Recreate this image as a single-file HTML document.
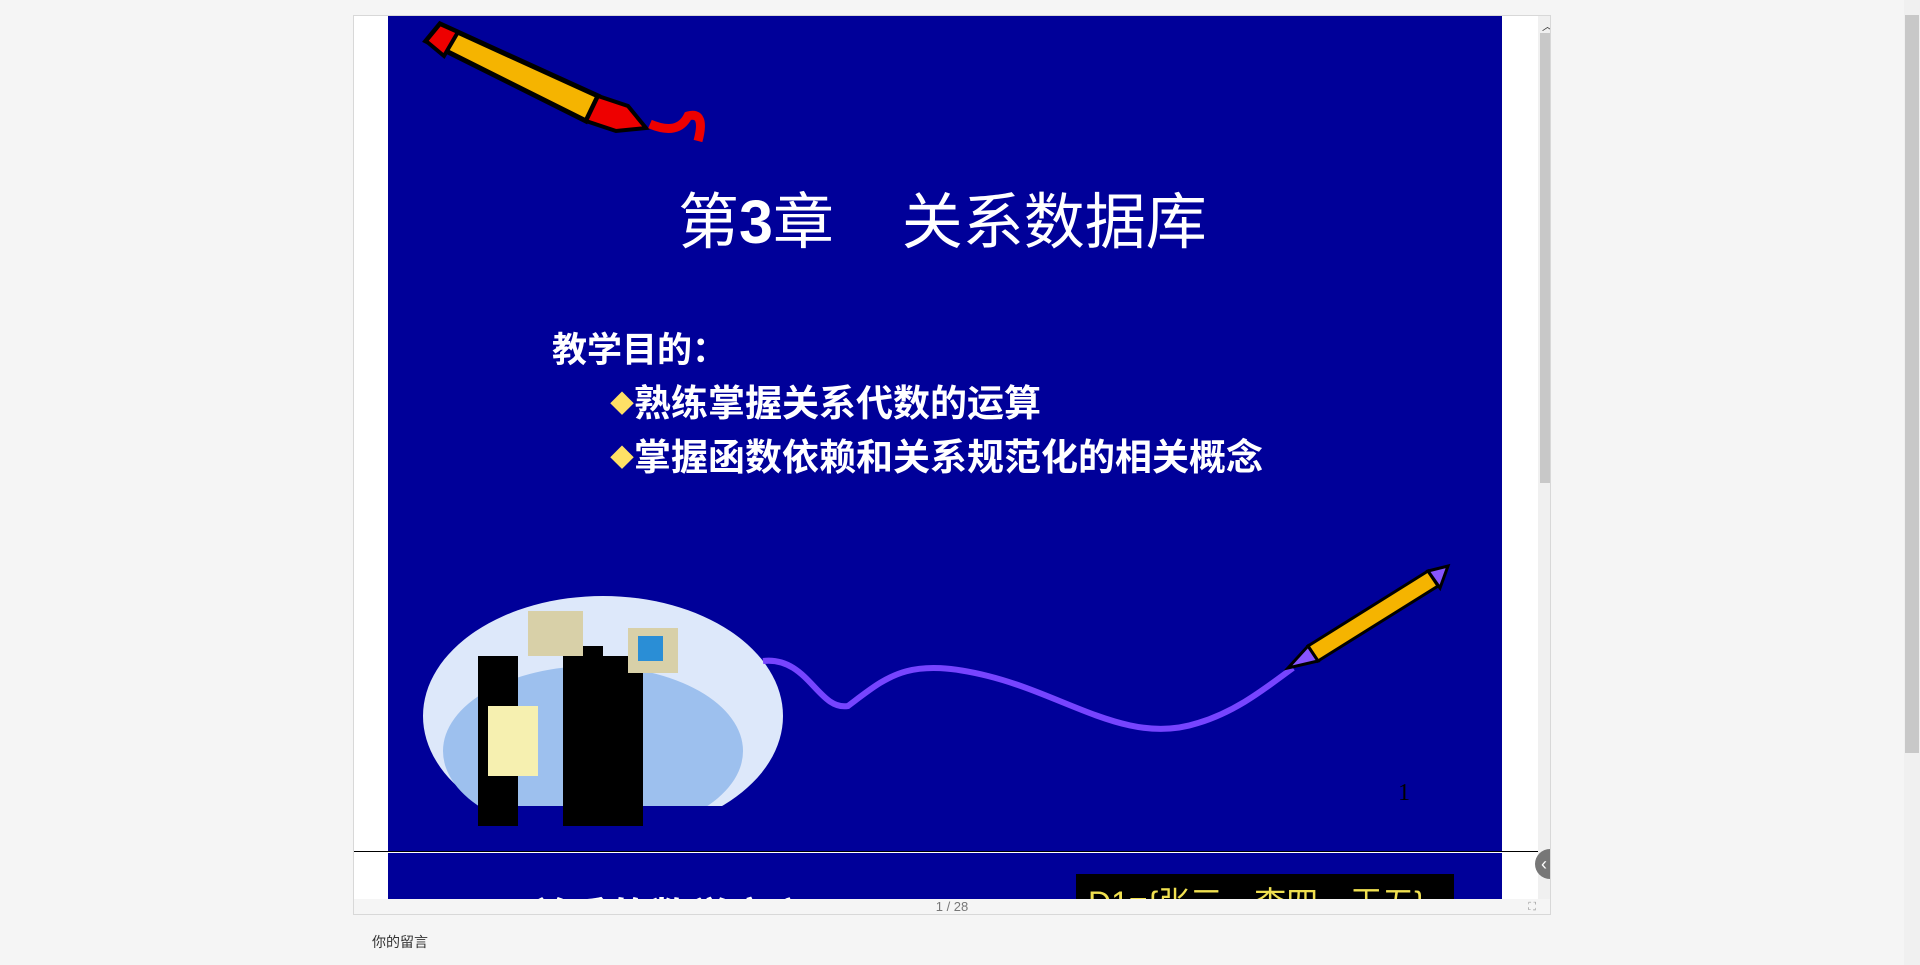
<!DOCTYPE html>
<html><head><meta charset="utf-8">
<style>
html,body{margin:0;padding:0;width:1920px;height:965px;overflow:hidden;background:#f5f5f5;font-family:"Liberation Sans","Noto Sans CJK SC",sans-serif;}
#viewer{position:absolute;left:353px;top:15px;width:1198px;height:900px;background:#fff;border:1px solid #d8d8d8;box-sizing:border-box;overflow:hidden;}
#slide1{position:absolute;left:34px;top:0;width:1114px;height:835px;background:#000099;overflow:hidden;}
#divider{position:absolute;left:0;top:835px;width:1184px;height:1px;background:#000;}
#slide2{position:absolute;left:34px;top:837px;width:1114px;height:60px;background:#000099;overflow:hidden;}
.t{position:absolute;color:#fff;white-space:nowrap;}
#bar{position:absolute;left:0;top:883px;width:1196px;height:16px;background:#f5f5f5;font-size:13px;color:#777;text-align:center;line-height:16px;}
#vscroll{position:absolute;left:1184px;top:0;width:14px;height:883px;background:#f0f0f0;}
#vthumb{position:absolute;left:1186px;top:17px;width:12px;height:450px;background:#c8c8c8;}
#pscroll{position:absolute;left:1904px;top:0;width:16px;height:965px;background:#f0f0f0;}
#pthumb{position:absolute;left:1905px;top:15px;width:14px;height:738px;background:#c8c8c8;}
</style></head><body>
<div id="viewer">
 <div id="slide1">
  <svg width="1114" height="835" style="position:absolute;left:0;top:0">
   <g>
    <polygon points="38,25 52,8 210,80 198,105" fill="#f5b400" stroke="#000" stroke-width="5"/>
    <polygon points="38,25 52,8 70,16 56,40" fill="#e00" stroke="#000" stroke-width="4"/>
    <polygon points="198,105 210,80 240,90 258,112 228,115" fill="#e00" stroke="#000" stroke-width="4"/>
    <path d="M262,108 Q290,120 300,100 Q318,95 310,125" stroke="#e00" stroke-width="9" fill="none"/>
   </g>
   <g>
    <ellipse cx="215" cy="700" rx="180" ry="120" fill="#dde8fa"/>
    <ellipse cx="205" cy="735" rx="150" ry="85" fill="#9dc0ee"/>
    <rect x="30" y="790" width="340" height="50" fill="#000099"/>
    <rect x="90" y="640" width="40" height="170" fill="#000"/>
    <rect x="100" y="690" width="50" height="70" fill="#f6f0b0"/>
    <rect x="175" y="630" width="40" height="180" fill="#000"/>
    <rect x="215" y="640" width="40" height="170" fill="#000"/>
    <rect x="140" y="595" width="55" height="45" fill="#d8d0a8"/>
    <rect x="240" y="612" width="50" height="45" fill="#d8d0a8"/>
    <rect x="250" y="620" width="25" height="25" fill="#2a8ed6"/>
   </g>
   <path d="M375,645 C420,640 430,695 460,690 C500,660 520,640 600,660 C680,680 740,730 810,707 C850,695 880,670 905,652" stroke="#7744ff" stroke-width="6" fill="none"/>
   <g>
    <polygon points="920,630 1040,555 1050,570 930,645" fill="#f5b400" stroke="#000" stroke-width="3"/>
    <polygon points="900,652 920,630 930,645" fill="#8855ff" stroke="#000" stroke-width="3"/>
    <polygon points="1040,555 1060,550 1052,572" fill="#8855ff" stroke="#000" stroke-width="3"/>
   </g>
  </svg>
  <div class="t" style="left:290px;top:171px;font-size:61px;line-height:70px;">第<b>3</b>章&nbsp;&nbsp;&nbsp;&nbsp;关系数据库</div>
  <div class="t" style="left:164px;top:314px;font-size:35px;font-weight:bold;line-height:42px;">教学目的：</div>
  <div class="t" style="left:222px;top:366px;font-size:37px;font-weight:bold;line-height:44px;"><span style="color:#ffe066;font-size:24px;vertical-align:4px">◆</span>熟练掌握关系代数的运算</div>
  <div class="t" style="left:222px;top:420px;font-size:37px;font-weight:bold;line-height:44px;"><span style="color:#ffe066;font-size:24px;vertical-align:4px">◆</span>掌握函数依赖和关系规范化的相关概念</div>
  <div class="t" style="left:1010px;top:764px;font-size:24px;color:#000;font-family:'Liberation Serif',serif">1</div>
 </div>
 <div id="divider"></div>
 <div id="slide2">
  <div class="t" style="left:142px;top:32px;font-size:40px;font-weight:bold;">关系的数学定义</div>
  <div style="position:absolute;left:688px;top:21px;width:378px;height:60px;background:#000;">
   <div class="t" style="left:12px;top:4px;font-size:32px;color:#f0e050;">D1={张三，李四，王五}</div>
  </div>
 </div>
 <div id="vscroll"></div>
 <div id="vthumb"></div>
 <div style="position:absolute;left:1188px;top:2px;font-size:11px;color:#333">︿</div>
 <div style="position:absolute;left:1181px;top:833px;width:30px;height:30px;border-radius:15px;background:#777;color:#fff;font-size:18px;line-height:30px;text-indent:6px">‹</div>
 <div id="bar"><span>1 / 28</span>
  <span style="position:absolute;right:14px;top:0;font-size:11px;color:#999">⛶</span></div>
</div>
<div style="position:absolute;left:372px;top:932px;font-size:14px;color:#333;">你的留言</div>
<div id="pscroll"></div>
<div id="pthumb"></div>
</body></html>
